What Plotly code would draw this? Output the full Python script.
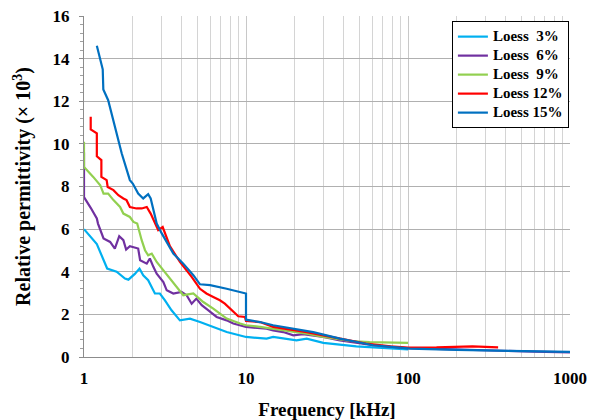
import plotly.graph_objects as go

names = ["Loess\u00a0\u00a03%", "Loess\u00a0\u00a06%", "Loess\u00a0\u00a09%", "Loess 12%", "Loess 15%"]
colors = ["#00B0F0", "#7030A0", "#92D050", "#FF0000", "#0070C0"]

f3 = [1.0, 1.2, 1.39, 1.59, 1.79, 1.88, 2.06, 2.2, 2.32, 2.49, 2.74, 2.94, 3.16, 3.47, 3.91, 4.51, 5.2, 6.28, 7.6, 10, 13.4, 14.7, 17, 20.5, 23.7, 30, 48, 78, 100]
v3 = [6.0, 5.3, 4.15, 4.0, 3.68, 3.63, 3.9, 4.15, 3.83, 3.6, 2.98, 2.98, 2.66, 2.19, 1.72, 1.8, 1.64, 1.41, 1.17, 0.94, 0.86, 0.94, 0.86, 0.78, 0.86, 0.66, 0.5, 0.42, 0.36]

f6 = [1.0, 1.0, 1.1, 1.2, 1.22, 1.32, 1.45, 1.55, 1.65, 1.75, 1.82, 1.92, 2.16, 2.22, 2.44, 2.55, 2.68, 2.81, 3.09, 3.24, 3.56, 4.0, 4.3, 4.62, 4.94, 5.33, 5.86, 6.59, 7.6, 8.35, 10, 13.4, 14.7, 17, 19.6, 22.5, 30, 38, 61, 98, 150, 300, 600, 1000]
v6 = [9.6, 7.5, 7.0, 6.5, 6.26, 5.56, 5.4, 5.09, 5.67, 5.48, 5.04, 5.2, 5.09, 4.54, 4.38, 4.62, 4.23, 3.91, 3.52, 3.13, 2.98, 3.05, 2.9, 2.5, 2.74, 2.43, 2.19, 1.88, 1.72, 1.57, 1.41, 1.33, 1.25, 1.17, 1.02, 1.07, 0.94, 0.78, 0.55, 0.42, 0.38, 0.3, 0.25, 0.22]

f9 = [1.0, 1.0, 1.14, 1.26, 1.32, 1.41, 1.52, 1.67, 1.75, 1.92, 2.02, 2.13, 2.27, 2.38, 2.49, 2.62, 2.81, 3.09, 3.39, 3.56, 4.1, 4.73, 5.45, 6.28, 7.6, 9.2, 10, 12.2, 14.7, 23.7, 30, 44, 58, 78, 100]
v9 = [10.1, 8.92, 8.45, 8.06, 7.67, 7.67, 7.36, 7.04, 6.73, 6.57, 6.34, 6.26, 5.48, 5.01, 4.77, 4.85, 4.46, 4.07, 3.68, 3.44, 2.9, 2.98, 2.58, 2.27, 1.8, 1.57, 1.49, 1.41, 1.33, 1.1, 0.94, 0.75, 0.7, 0.66, 0.66]

f12 = [1.1, 1.1, 1.2, 1.2, 1.28, 1.28, 1.38, 1.4, 1.52, 1.63, 1.75, 1.83, 1.92, 2.11, 2.27, 2.44, 2.58, 2.74, 2.87, 3.06, 3.16, 3.39, 3.91, 4.62, 5.2, 5.7, 6.28, 6.9, 7.4, 8.15, 8.96, 9.85, 10, 12.2, 14.7, 23.7, 38, 55, 78, 100, 150, 250, 360]
v12 = [11.27, 10.68, 10.49, 9.42, 9.24, 8.45, 8.3, 7.98, 7.83, 7.59, 7.44, 7.36, 7.04, 6.97, 6.97, 7.04, 6.73, 6.26, 5.95, 6.1, 5.79, 5.2, 4.46, 3.76, 3.2, 2.98, 2.82, 2.66, 2.5, 2.19, 1.91, 1.88, 1.69, 1.64, 1.41, 1.17, 0.86, 0.63, 0.5, 0.44, 0.45, 0.5, 0.45]

f15 = [1.2, 1.305, 1.316, 1.41, 1.71, 1.92, 2.0, 2.16, 2.32, 2.49, 2.58, 2.62, 2.81, 3.02, 3.56, 4.1, 4.73, 5.2, 6.0, 7.6, 9.2, 10, 10, 12.2, 14.7, 26, 38, 61, 89, 103, 200, 500, 1000]
v15 = [14.6, 13.5, 12.55, 12.05, 9.55, 8.3, 8.14, 7.67, 7.44, 7.64, 7.44, 7.2, 6.26, 5.8, 4.85, 4.38, 3.84, 3.41, 3.37, 3.2, 3.05, 2.98, 1.75, 1.64, 1.49, 1.17, 0.86, 0.55, 0.44, 0.39, 0.33, 0.27, 0.24]

xs = [f3, f6, f9, f12, f15]
ys = [v3, v6, v9, v12, v15]

x_ticks = [1, 10, 100, 1000]
y_ticks = [0, 2, 4, 6, 8, 10, 12, 14, 16]

FONT = "Liberation Serif"

fig = go.Figure()
for name, c, x, y in zip(names, colors, xs, ys):
    fig.add_trace(go.Scatter(x=x, y=y, mode="lines",
                             name='<span style="font-size:15px">' + name + '</span>',
                             line=dict(color=c, width=2.2)))

fig.update_layout(
    width=588, height=412,
    margin=dict(l=76, r=26, t=8, b=63),
    paper_bgcolor="white", plot_bgcolor="white",
    font=dict(family=FONT, color="black"),
    showlegend=True,
    legend=dict(
        x=0.757, y=0.985, xanchor="left", yanchor="top",
        bgcolor="white", bordercolor="black", borderwidth=1,
        font=dict(family=FONT, size=12, color="black", weight="bold"),
        tracegroupgap=0, itemwidth=30,
    ),
)

fig.update_xaxes(
    type="log", range=[0, 3], automargin=False,
    tickvals=x_ticks, ticktext=[str(t) for t in x_ticks],
    tickfont=dict(family=FONT, size=17, weight="bold"),
    showgrid=True, gridcolor="#c8c8c8", gridwidth=1,
    minor=dict(showgrid=True, gridcolor="#d4d4d4", gridwidth=1,
               tickvals=[m * 10 ** d for d in range(3) for m in range(2, 10)]),
    showline=True, linecolor="#8c8c8c", linewidth=1,
    ticks="", ticklabelstandoff=6, ticklabeloverflow="allow",
    title=dict(text="Frequency [kHz]", font=dict(family=FONT, size=19, weight="bold"), standoff=20),
    zeroline=False,
)

fig.update_yaxes(
    range=[0, 16], automargin=False,
    tickvals=y_ticks,
    tickfont=dict(family=FONT, size=17, weight="bold"),
    showgrid=True, gridcolor="#b0b0b0", gridwidth=1,
    showline=True, linecolor="#8c8c8c", linewidth=1,
    ticks="outside", ticklen=4, tickcolor="#8c8c8c",
    ticklabelstandoff=6, ticklabeloverflow="allow",
    minor=dict(dtick=0.4, ticks="outside", ticklen=3, tickcolor="#a0a0a0", showgrid=False),
    title=dict(text="Relative permittivity (× 10<sup>3</sup>)", font=dict(family=FONT, size=20, weight="bold"), standoff=16),
    zeroline=False,
)

fig.write_html("out.html")
